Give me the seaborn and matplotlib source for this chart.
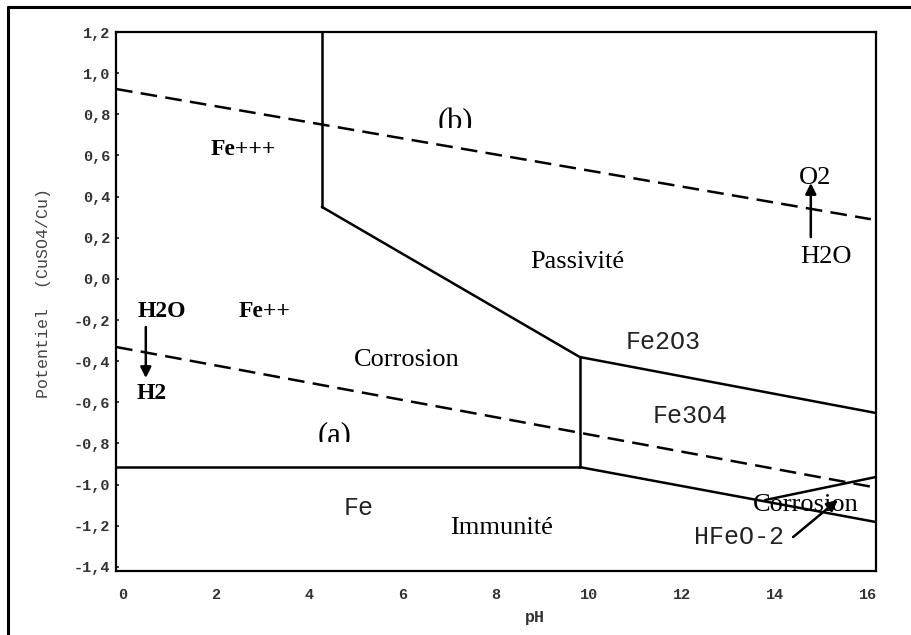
import numpy as np
import pandas as pd
import seaborn as sns
import matplotlib.pyplot as plt
from matplotlib.lines import Line2D
from matplotlib.transforms import Bbox, TransformedBbox

# limites du diagramme
ph_min, ph_max = -0.15, 16.17
e_min, e_max = -1.42, 1.2

# frontieres du diagramme (traits pleins)
bound_names = ["Fe+++/Fe2O3", "Fe++/Fe2O3", "Fe++/Fe3O4", "Fe2O3/Fe3O4",
               "Fe++/Fe", "Fe3O4/Fe", "Fe3O4/HFeO2"]
bound_ph = [[4.27, 4.27], [4.27, 9.81], [9.81, 9.81], [9.81, 16.17],
            [-0.15, 9.81], [9.81, 16.17], [13.79, 16.17]]
bound_E = [[1.2, 0.35], [0.35, -0.38], [-0.38, -0.915], [-0.38, -0.652],
           [-0.915, -0.915], [-0.915, -1.182], [-1.075, -0.963]]

# droites de l'eau (tirets)
water_names = ["(b) O2/H2O", "(a) H2O/H2"]
water_ph = [[-0.15, 16.06], [-0.15, 16.06]]
water_E = [[0.923, 0.29], [-0.331, -1.01]]

# etiquettes
serif_labels = ["Fe+++", "O2", "H2O", "Passivité", "H2O", "Fe++", "H2",
                "Corrosion", "Immunité", "Corrosion"]
serif_pos = [(2.58, 0.63), (14.86, 0.49), (15.10, 0.106), (9.75, 0.082),
             (0.84, -0.161), (3.05, -0.161), (0.62, -0.555),
             (6.10, -0.394), (8.12, -1.211), (14.67, -1.099)]
serif_bold = [True, False, False, False, True, True, True, False, False, False]
mono_labels = ["Fe", "Fe2O3", "Fe3O4", "HFeO-2"]
mono_pos = [(5.07, -1.114), (11.6, -0.307), (12.18, -0.667), (13.23, -1.255)]
clipped_labels = ["(b)", "(a)"]
clipped_pos = [(7.13, 0.762), (4.55, -0.764)]
clipped_floor = [0.733, -0.793]

yticks = np.round(np.arange(-1.4, 1.21, 0.2), 1)
xticks = np.arange(0, 17, 2)

def to_df(names, phs, Es):
    rows = []
    for n, p, e in zip(names, phs, Es):
        for a, b in zip(p, e):
            rows.append({"seg": n, "pH": a, "E": b})
    return pd.DataFrame(rows)

df_bound = to_df(bound_names, bound_ph, bound_E)
df_water = to_df(water_names, water_ph, water_E)

sns.set_theme(style="white")
plt.rcParams["lines.scale_dashes"] = False
plt.rcParams["lines.solid_capstyle"] = "round"

fig = plt.figure(figsize=(9.11, 6.35), dpi=100)
ax = fig.add_axes([116 / 911, 1 - 571 / 635, 760 / 911, 539 / 635])

sns.lineplot(data=df_bound, x="pH", y="E", units="seg", estimator=None,
             sort=False, color="black", linewidth=1.8, ax=ax)
sns.lineplot(data=df_water, x="pH", y="E", units="seg", estimator=None,
             sort=False, color="black", linewidth=1.8, ax=ax,
             linestyle=(0, (12, 6)))

ax.set_xlim(ph_min, ph_max)
ax.set_ylim(e_min, e_max)
ax.set_xticks(xticks)
ax.set_yticks(yticks)
ax.set_yticklabels([f"{v + 0.0:.1f}".replace(".", ",").replace("-0,0", "0,0")
                    for v in yticks])
ax.tick_params(axis="x", length=0, pad=12, labelsize=11, labelcolor="#333")
ax.tick_params(axis="y", length=2, direction="in", pad=4, labelsize=11,
               labelcolor="#333", left=True)
for lab in ax.get_xticklabels() + ax.get_yticklabels():
    lab.set_family("Liberation Mono")
    lab.set_weight("bold")
for s in ax.spines.values():
    s.set_color("black")
    s.set_linewidth(1.6)

ax.set_xlabel("pH", family="Liberation Mono", fontsize=12, color="#333",
              weight="bold")
ax.set_ylabel("Potentiel  (CuSO4/Cu)", family="Liberation Mono", fontsize=12,
              color="#444")
ax.xaxis.set_label_coords(0.551, -0.087)
ax.xaxis.label.set_va("center")
ax.yaxis.set_label_coords(-0.096, 0.515)
ax.yaxis.label.set_va("center")

for t, (x, y), b in zip(serif_labels, serif_pos, serif_bold):
    ax.text(x, y, t, family="Liberation Serif", fontsize=17 if b else 19,
            weight="bold" if b else "normal", ha="center", va="center",
            color="black")
for t, (x, y) in zip(mono_labels, mono_pos):
    ax.text(x, y, t, family="Liberation Mono", fontsize=18, ha="center",
            va="center", color="#222")
for t, (x, y), fl in zip(clipped_labels, clipped_pos, clipped_floor):
    txt = ax.text(x, y, t, family="Liberation Serif", fontsize=22,
                  ha="center", va="center", color="black")
    txt.set_clip_box(TransformedBbox(Bbox([[x - 2, fl], [x + 2, fl + 0.5]]),
                                     ax.transData))
    txt.set_clip_on(True)

arrow = dict(arrowstyle="-|>", color="black", lw=1.8, mutation_scale=16,
             shrinkA=0, shrinkB=0)
ax.annotate("", xy=(14.77, 0.466), xytext=(14.77, 0.203), arrowprops=arrow)
ax.annotate("", xy=(0.49, -0.482), xytext=(0.49, -0.234), arrowprops=arrow)
ax.annotate("", xy=(15.35, -1.075), xytext=(14.39, -1.255), arrowprops=arrow)

# cadre exterieur
fig.add_artist(Line2D([8 / 911, 8 / 911], [0, 1 - 7 / 635], color="black",
                      lw=2.2, transform=fig.transFigure))
fig.add_artist(Line2D([8 / 911, 1], [1 - 7 / 635, 1 - 7 / 635], color="black",
                      lw=2.2, transform=fig.transFigure))

fig.savefig("out.png", dpi=100)
